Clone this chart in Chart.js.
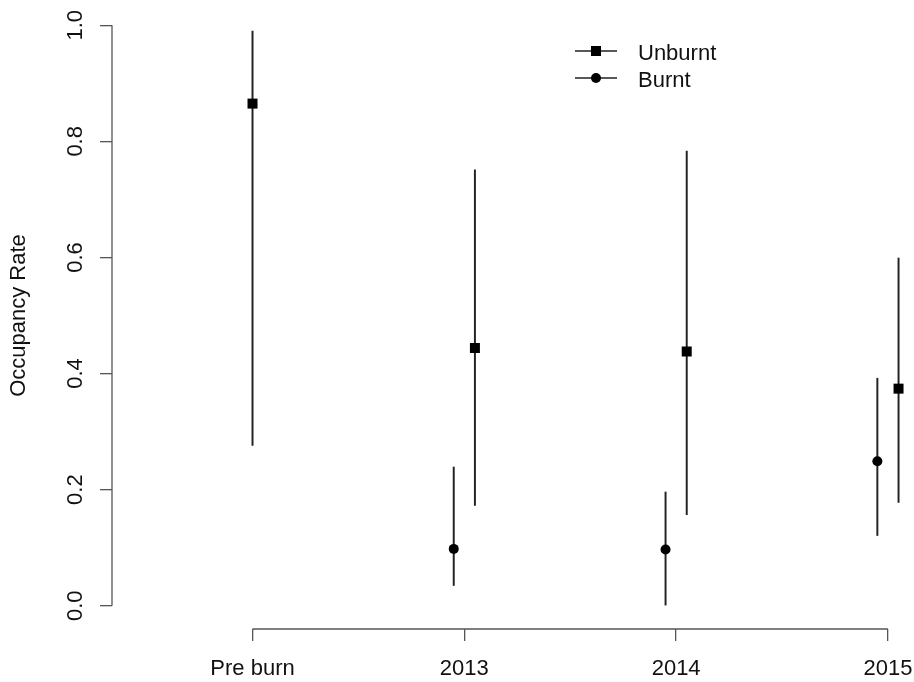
<!DOCTYPE html>
<html>
<head>
<meta charset="utf-8">
<script src="https://cdn.jsdelivr.net/npm/chart.js@4.4.1/dist/chart.umd.min.js"></script>
<style>
  html, body { margin: 0; padding: 0; background: #ffffff; }
  #wrap { width: 914px; height: 682px; position: relative; }
</style>
</head>
<body>
<div id="wrap"><canvas id="c" width="914" height="682"></canvas></div>
<script>
// ---- data ----
const categories = ['Pre burn', '2013', '2014', '2015'];
const unburntMean  = [0.865, 0.444, 0.438, 0.374];
const unburntLower = [0.276, 0.173, 0.157, 0.178];
const unburntUpper = [0.990, 0.751, 0.783, 0.599];
const burntMean  = [null, 0.098, 0.097, 0.249];
const burntLower = [null, 0.035, 0.000, 0.121];
const burntUpper = [null, 0.239, 0.196, 0.392];
const yTickValues = [0, 0.2, 0.4, 0.6, 0.8, 1.0];
const seriesNames = ['Unburnt', 'Burnt'];
const yTitle = 'Occupancy Rate';

// ---- build datasets ----
const DODGE = 0.05;
function xPos(i, side) {
  // category position (1-based); dodge only where both series present
  const both = unburntMean[i] != null && burntMean[i] != null;
  return (i + 1) + (both ? side * DODGE : 0);
}
const unPts = [], unBars = [], buPts = [], buBars = [];
categories.forEach((c, i) => {
  if (unburntMean[i] != null) {
    unPts.push({ x: xPos(i, 1), y: unburntMean[i] });
    unBars.push({ x: xPos(i, 1), y: [unburntLower[i], unburntUpper[i]] });
  }
  if (burntMean[i] != null) {
    buPts.push({ x: xPos(i, -1), y: burntMean[i] });
    buBars.push({ x: xPos(i, -1), y: [burntLower[i], burntUpper[i]] });
  }
});

const FONT = "'Liberation Sans', Arial, Helvetica, sans-serif";
const TXT = '#111111';
const AXIS = '#555555';

const rAxesPlugin = {
  id: 'rAxes',
  afterDraw(chart) {
    const ctx = chart.ctx;
    const xs = chart.scales.x, ys = chart.scales.y;
    const ca = chart.chartArea;
    ctx.save();
    ctx.strokeStyle = AXIS;
    ctx.lineWidth = 1.3;
    // y axis line from first to last tick
    const y0 = ys.getPixelForValue(yTickValues[0]);
    const y1 = ys.getPixelForValue(yTickValues[yTickValues.length - 1]);
    ctx.beginPath();
    ctx.moveTo(ca.left, y0); ctx.lineTo(ca.left, y1); ctx.stroke();
    // x axis line from first to last category
    const x0 = xs.getPixelForValue(1);
    const x1 = xs.getPixelForValue(categories.length);
    ctx.beginPath();
    ctx.moveTo(x0, ca.bottom); ctx.lineTo(x1, ca.bottom); ctx.stroke();

    // rotated y tick labels
    ctx.fillStyle = TXT;
    ctx.font = '22px ' + FONT;
    ctx.textAlign = 'center';
    ctx.textBaseline = 'alphabetic';
    ys.ticks.forEach(t => {
      const py = ys.getPixelForValue(t.value);
      ctx.save();
      ctx.translate(ca.left - 30.5, py);
      ctx.rotate(-Math.PI / 2);
      ctx.fillText(t.value.toFixed(1), 0, 0);
      ctx.restore();
    });

    // legend (R style: line through symbol)
    const rows = [
      { label: seriesNames[0], style: 'rect', y: 51 },
      { label: seriesNames[1], style: 'circle', y: 78 }
    ];
    rows.forEach(r => {
      ctx.strokeStyle = '#222';
      ctx.lineWidth = 1.3;
      ctx.beginPath();
      ctx.moveTo(575, r.y); ctx.lineTo(617, r.y); ctx.stroke();
      ctx.fillStyle = '#000';
      if (r.style === 'rect') {
        ctx.fillRect(596 - 5, r.y - 5, 10, 10);
      } else {
        ctx.beginPath(); ctx.arc(596, r.y, 5, 0, Math.PI * 2); ctx.fill();
      }
      ctx.fillStyle = TXT;
      ctx.textAlign = 'left';
      ctx.textBaseline = 'alphabetic';
      ctx.fillText(r.label, 638, r.y + 9);
    });
    ctx.restore();
  }
};

new Chart(document.getElementById('c'), {
  data: {
    datasets: [
      { type: 'scatter', label: seriesNames[0], data: unPts, order: 0,
        pointStyle: 'rect', pointRadius: 7.07, pointHoverRadius: 7.07,
        backgroundColor: '#000', borderColor: '#000', borderWidth: 0 },
      { type: 'scatter', label: seriesNames[1], data: buPts, order: 0,
        pointStyle: 'circle', pointRadius: 5, pointHoverRadius: 5,
        backgroundColor: '#000', borderColor: '#000', borderWidth: 0 },
      { type: 'bar', label: seriesNames[0] + ' CI', data: unBars, order: 1,
        grouped: false, barThickness: 1.3, backgroundColor: '#222', borderWidth: 0 },
      { type: 'bar', label: seriesNames[1] + ' CI', data: buBars, order: 1,
        grouped: false, barThickness: 1.3, backgroundColor: '#222', borderWidth: 0 }
    ]
  },
  options: {
    responsive: false,
    animation: false,
    events: [],
    layout: { autoPadding: false, padding: { top: 2, right: 0, bottom: 0, left: 0 } },
    plugins: { legend: { display: false }, tooltip: { enabled: false } },
    scales: {
      x: {
        type: 'linear', position: 'bottom',
        min: 0.3366, max: 4.123, offset: false,
        afterBuildTicks: s => { s.ticks = categories.map((c, i) => ({ value: i + 1 })); },
        afterFit: s => { s.height = 53; s.paddingLeft = 0; s.paddingRight = 0; },
        ticks: {
          autoSkip: false, maxRotation: 0, minRotation: 0, padding: 14.5,
          color: TXT, font: { family: FONT, size: 22 },
          callback: (v) => categories[Math.round(v) - 1]
        },
        grid: { display: true, offset: false, drawOnChartArea: false, drawTicks: true, tickLength: 12,
                color: AXIS, lineWidth: 1.3 },
        border: { display: false }
      },
      y: {
        type: 'linear', position: 'left',
        min: -0.04, max: 1.04,
        afterBuildTicks: s => { s.ticks = yTickValues.map(v => ({ value: v })); },
        afterFit: s => { s.width = 112; },
        ticks: { display: false },
        grid: { display: true, offset: false, drawOnChartArea: false, drawTicks: true, tickLength: 12,
                color: AXIS, lineWidth: 1.3 },
        border: { display: false },
        title: { display: true, text: yTitle, color: TXT,
                 font: { family: FONT, size: 22 }, padding: { top: 6, bottom: 0 } }
      }
    }
  },
  plugins: [rAxesPlugin]
});
</script>
</body>
</html>
